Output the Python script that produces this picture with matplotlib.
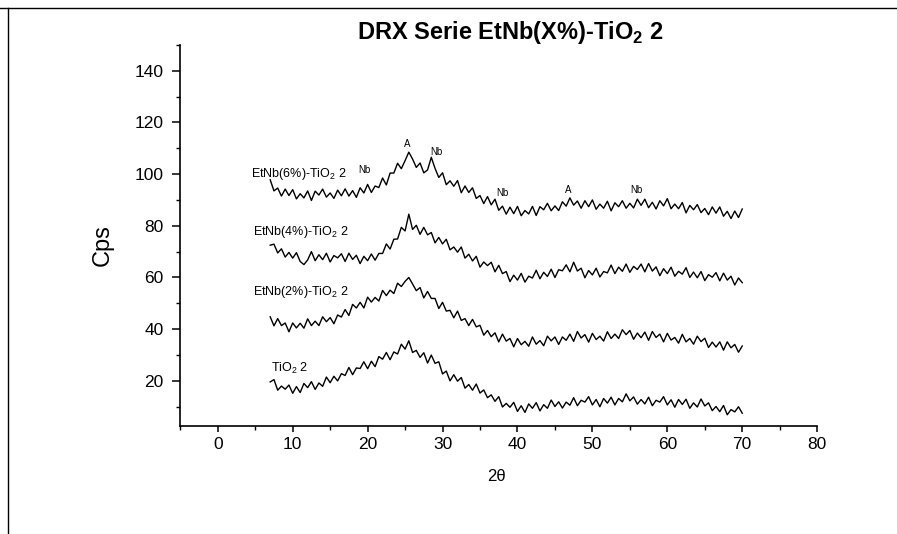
import numpy as np
import matplotlib
matplotlib.use("Agg")
import matplotlib.pyplot as plt
from matplotlib.lines import Line2D
from matplotlib.ticker import MultipleLocator

plt.rcParams['font.family'] = ['Liberation Sans', 'DejaVu Sans']
plt.rcParams['mathtext.fontset'] = 'custom'
plt.rcParams['mathtext.rm'] = 'Liberation Sans'
plt.rcParams['mathtext.bf'] = 'Liberation Sans:bold'

# 2theta grid of the scan (7..70 deg, read every 0.5 deg)
two_theta = np.arange(7.0, 70.25, 0.5)

etnb6 = [97.8, 93.5, 94.6, 91.5, 94.2, 91.7, 94.0, 90.4, 92.4, 90.8,
         93.5, 89.8, 93.4, 91.9, 94.2, 91.1, 92.7, 90.6, 93.8, 91.6,
         94.3, 91.5, 93.6, 91.0, 94.7, 92.7, 96.0, 92.9, 95.4, 94.8,
         98.5, 95.8, 100.4, 100.4, 104.2, 102.1, 105.2, 108.5, 105.8, 102.6,
         104.3, 100.5, 101.6, 106.5, 102.2, 98.7, 100.5, 95.9, 97.4, 95.3,
         97.5, 92.8, 95.4, 92.9, 94.7, 90.6, 91.7, 88.6, 91.3, 88.1,
         90.3, 86.0, 87.6, 84.5, 87.2, 84.7, 87.5, 83.9, 85.9, 84.6,
         87.5, 84.0, 87.4, 86.2, 88.7, 85.8, 87.7, 85.9, 89.3, 87.6,
         90.8, 88.0, 89.6, 86.8, 89.7, 87.4, 90.0, 86.4, 88.4, 86.8,
         89.5, 85.8, 88.9, 87.4, 89.7, 86.8, 88.7, 86.9, 90.3, 87.9,
         90.3, 87.0, 89.1, 86.5, 89.7, 87.7, 90.5, 86.6, 88.4, 86.6,
         89.0, 85.0, 87.9, 86.2, 88.2, 85.1, 86.7, 84.3, 87.3, 84.9,
         87.3, 83.7, 85.6, 82.8, 85.7, 83.2, 86.5]

etnb4 = [72.5, 72.9, 69.5, 71.1, 67.9, 69.7, 67.5, 69.6, 66.2, 65.0,
         66.8, 70.0, 66.5, 68.8, 66.9, 69.4, 66.0, 68.5, 67.6, 69.2,
         66.2, 69.4, 67.0, 68.6, 65.4, 68.2, 66.5, 69.1, 66.7, 69.3,
         69.3, 73.0, 71.0, 74.8, 74.9, 79.4, 78.0, 84.5, 78.6, 80.2,
         76.7, 79.4, 76.5, 77.4, 73.4, 75.5, 73.0, 74.8, 70.7, 71.8,
         69.8, 71.8, 67.5, 69.0, 66.4, 68.2, 64.0, 66.0, 64.6, 65.9,
         62.2, 64.7, 61.5, 62.3, 58.4, 60.9, 59.0, 61.6, 58.2, 60.5,
         59.8, 62.8, 59.5, 62.0, 60.4, 63.2, 60.0, 63.0, 62.6, 64.9,
         62.2, 65.9, 62.5, 63.6, 59.9, 62.7, 61.0, 63.6, 60.2, 62.3,
         61.8, 64.8, 61.5, 64.0, 62.4, 65.2, 62.0, 64.3, 63.1, 65.2,
         62.2, 65.4, 62.5, 64.1, 60.7, 63.4, 61.5, 64.0, 60.5, 62.4,
         61.3, 63.8, 60.0, 62.1, 59.9, 62.3, 58.8, 61.1, 60.1, 61.9,
         58.7, 61.7, 59.0, 60.5, 57.1, 59.8, 58.0]

etnb2 = [44.8, 41.3, 44.1, 41.4, 42.4, 39.0, 42.4, 40.5, 42.3, 40.4,
         44.0, 41.4, 43.1, 41.4, 44.8, 42.9, 44.5, 42.1, 45.5, 44.7,
         47.6, 45.3, 49.6, 48.2, 50.4, 48.2, 52.4, 50.5, 52.3, 50.9,
         55.0, 53.0, 55.1, 53.8, 57.8, 56.5, 58.5, 60.0, 57.5, 54.9,
         56.1, 52.1, 54.6, 51.9, 51.9, 48.0, 50.4, 47.0, 47.3, 44.4,
         47.0, 43.4, 44.1, 41.4, 43.8, 40.9, 41.5, 37.7, 39.5, 37.1,
         38.6, 35.1, 38.1, 35.4, 36.4, 33.2, 36.4, 34.0, 35.3, 33.4,
         37.0, 34.2, 35.6, 33.6, 37.3, 35.5, 37.0, 34.1, 37.0, 35.7,
         38.1, 35.3, 39.1, 36.6, 37.9, 35.0, 38.4, 36.0, 37.3, 35.4,
         39.0, 36.4, 38.1, 36.4, 39.8, 37.9, 39.5, 36.1, 38.5, 36.7,
         38.9, 35.7, 39.1, 36.8, 38.1, 35.1, 38.4, 35.8, 36.8, 34.6,
         38.0, 35.1, 36.4, 34.2, 37.3, 35.2, 36.5, 32.9, 35.0, 33.1,
         35.1, 31.9, 35.1, 32.8, 34.1, 31.1, 33.5]

tio2 = [19.6, 20.5, 16.4, 18.0, 16.8, 18.4, 15.2, 17.8, 15.5, 19.0,
        17.4, 19.7, 16.7, 19.2, 17.9, 21.5, 19.3, 21.8, 20.0, 22.8,
        22.1, 25.2, 22.4, 25.0, 24.8, 27.4, 24.7, 27.6, 25.5, 29.4,
        28.4, 31.0, 28.2, 31.2, 30.4, 34.2, 32.3, 35.5, 31.0, 31.8,
        29.1, 30.9, 26.9, 30.0, 26.8, 27.4, 22.7, 23.8, 20.0, 22.4,
        19.9, 21.3, 17.2, 18.6, 16.4, 18.8, 15.3, 16.5, 13.5, 14.6,
        12.1, 13.9, 9.9, 11.3, 9.8, 11.7, 8.2, 10.4, 7.8, 11.1,
        9.4, 11.6, 8.4, 10.8, 9.4, 12.6, 10.1, 11.9, 9.5, 11.8,
        10.6, 13.5, 10.4, 12.5, 11.8, 13.9, 10.7, 12.8, 10.0, 13.2,
        11.4, 13.7, 10.7, 13.2, 11.9, 15.0, 12.3, 13.8, 11.0, 12.8,
        11.1, 13.7, 10.4, 12.5, 11.8, 13.9, 10.7, 12.7, 9.8, 12.8,
        10.9, 12.9, 9.4, 11.5, 9.9, 13.0, 10.3, 11.5, 8.5, 10.1,
        8.1, 10.5, 6.9, 8.9, 8.0, 10.0, 7.5]

series_labels = ['EtNb(6%)-TiO$_2$ 2', 'EtNb(4%)-TiO$_2$ 2',
                 'EtNb(2%)-TiO$_2$ 2', 'TiO$_2$ 2']
label_pos = [(4.4, 100.0), (4.7, 77.7), (4.7, 54.4), (7.1, 24.9)]

# phase marks on the 6% pattern
peak_marks = ['Nb', 'A', 'Nb', 'Nb', 'A', 'Nb']
peak_pos = [(19.6, 101.5), (25.3, 111.5), (29.2, 108.5),
            (38.0, 92.5), (46.8, 94.0), (55.9, 94.0)]

fig = plt.figure(figsize=(8.97, 5.34), dpi=100)
ax = fig.add_axes([0.201, 0.202, 0.710, 0.714])

for ys in [etnb6, etnb4, etnb2, tio2]:
    ax.plot(two_theta, ys, color='black', lw=1.0)

for lab, (x, y) in zip(series_labels, label_pos):
    ax.text(x, y, lab, fontsize=9, ha='left', va='center')

for lab, (x, y) in zip(peak_marks, peak_pos):
    ax.text(x, y, lab, fontsize=7, ha='center', va='center')

ax.set_xlim(-5, 80)
ax.set_ylim(2.5, 150)
ax.xaxis.set_major_locator(MultipleLocator(10))
ax.xaxis.set_minor_locator(MultipleLocator(5))
ax.yaxis.set_minor_locator(MultipleLocator(10))
ax.set_yticks([20, 40, 60, 80, 100, 120, 140])
ax.spines['top'].set_visible(False)
ax.spines['right'].set_visible(False)
ax.spines['left'].set_linewidth(1.2)
ax.spines['bottom'].set_linewidth(1.2)
ax.tick_params(axis='y', which='major', direction='out', length=6, width=1.1,
               labelsize=12.5, pad=6)
ax.tick_params(axis='x', which='major', direction='out', length=4, width=1.1,
               labelsize=12.5, pad=3.5)
ax.tick_params(which='minor', direction='out', length=3, width=1.0)

ax.set_xlabel('2θ', fontsize=12)
ax.xaxis.set_label_coords(0.496, -0.113)
ax.set_ylabel('Cps', fontsize=17)
ax.yaxis.set_label_coords(-0.105, 0.475)

fig.text(0.569, 0.94, r'DRX Serie EtNb(X%)-TiO$_\mathbf{2}$ 2',
         fontsize=17, fontweight='bold', ha='center', va='center')

# scan frame edges
fig.add_artist(Line2D([0, 1], [0.985, 0.985], color='black', lw=1.0))
fig.add_artist(Line2D([0.009, 0.009], [0, 0.985], color='black', lw=1.0))

fig.savefig('out.png', dpi=100)
